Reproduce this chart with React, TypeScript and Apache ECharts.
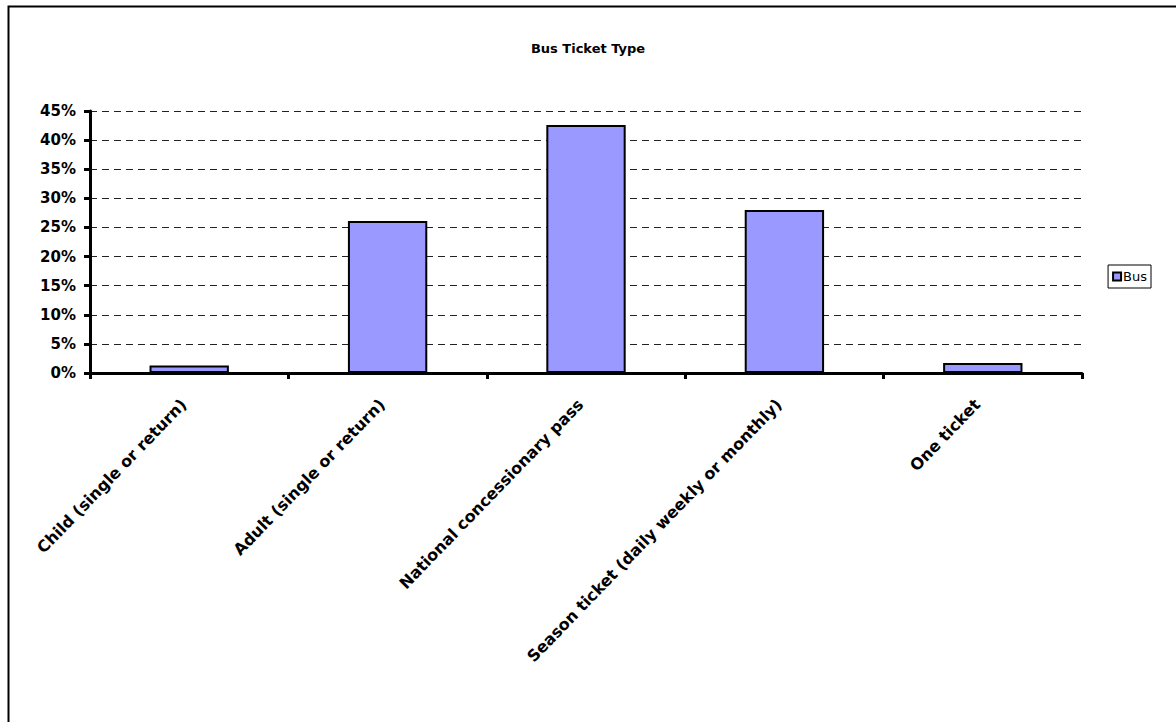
import React, { useEffect, useRef } from "react";
import * as echarts from "echarts";

const categories = [
  "Child (single or return)",
  "Adult (single or return)",
  "National concessionary pass",
  "Season ticket (daily weekly or monthly)",
  "One ticket",
];
const busShare = [1.3, 26.1, 42.6, 28.0, 1.7];
const seriesName = "Bus";
const chartTitle = "Bus Ticket Type";

const FONT = "'DejaVu Sans', 'Liberation Sans', Arial, sans-serif";

export default function App() {
  const ref = useRef<HTMLDivElement>(null);

  useEffect(() => {
    if (!ref.current) return;
    const chart = echarts.init(ref.current, undefined, { renderer: "svg" });
    chart.setOption({
      animation: false,
      backgroundColor: "#ffffff",
      textStyle: { fontFamily: FONT },
      title: {
        text: chartTitle,
        left: "center",
        top: 37,
        textStyle: { fontFamily: FONT, fontSize: 13, fontWeight: "bold", color: "#000" },
      },
      legend: {
        data: [seriesName],
        right: 25,
        top: 265,
        orient: "vertical",
        icon: "rect",
        itemWidth: 8,
        itemHeight: 8,
        padding: [5, 4, 5, 4],
        itemGap: 4,
        borderColor: "#000",
        borderWidth: 1,
        itemStyle: { borderColor: "#000", borderWidth: 2 },
        textStyle: { fontFamily: FONT, fontSize: 13, color: "#000", padding: [0, 0, 0, -3] },
      },
      graphic: [
        {
          type: "rect",
          left: 6,
          top: 4,
          shape: { width: 1200, height: 760 },
          style: { fill: "none", stroke: "#000", lineWidth: 2 },
          silent: true,
        },
      ],
      grid: { left: 90, right: 94, top: 111, bottom: 349, containLabel: false },
      xAxis: {
        type: "category",
        data: categories,
        axisLine: { lineStyle: { color: "#000", width: 3 } },
        axisTick: { show: true, length: 6, lineStyle: { color: "#000", width: 3 } },
        axisLabel: {
          rotate: 46,
          interval: 0,
          margin: 23,
          padding: [0, 8, 0, 0],
          fontFamily: FONT,
          fontSize: 16,
          fontWeight: "bold",
          color: "#000",
        },
      },
      yAxis: {
        type: "value",
        min: 0,
        max: 45,
        interval: 5,
        axisLine: { show: true, lineStyle: { color: "#000", width: 3 } },
        axisTick: { show: true, length: 6, lineStyle: { color: "#000", width: 3 } },
        axisLabel: {
          formatter: "{value}%",
          margin: 14,
          fontFamily: FONT,
          fontSize: 15,
          fontWeight: "bold",
          color: "#000",
        },
        splitLine: {
          show: true,
          lineStyle: { color: "#222", width: 1, type: [7, 5] },
        },
      },
      series: [
        {
          name: seriesName,
          type: "bar",
          data: busShare,
          barWidth: "40%",
          itemStyle: { color: "#9999FF", borderColor: "#000", borderWidth: 2 },
        },
      ],
    });
    return () => chart.dispose();
  }, []);

  return (
    <div
      ref={ref}
      style={{ position: "fixed", left: 0, top: 0, width: 1176, height: 722 }}
    />
  );
}
